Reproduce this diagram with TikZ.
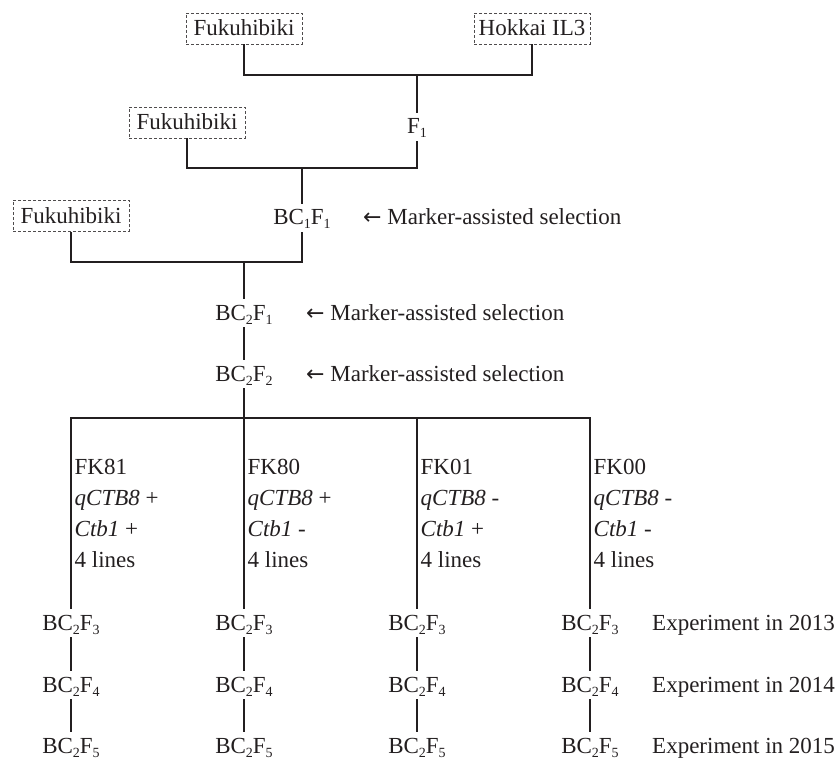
\documentclass[tikz,border=0pt]{standalone}
\usepackage{fontspec}
\setmainfont{Liberation Serif}
\newfontfamily\arrowfont{DejaVu Sans}
\newcommand\subx[1]{\raisebox{-4pt}{\fontsize{14}{14}\selectfont #1}}
\newcommand\larr{{\arrowfont\fontsize{22}{22}\selectfont ←}}
\definecolor{ink}{RGB}{35,31,32}
\begin{document}
\begin{tikzpicture}[x=1pt,y=-1pt,
  every node/.style={font=\fontsize{23}{27}\selectfont, text=ink},
  gen/.style={inner xsep=2pt, inner ysep=3pt, text height=18pt, text depth=4pt, anchor=base},
  parent/.style={draw=ink!80, dash pattern=on 3pt off 2pt, line width=0.9pt, minimum width=116pt, minimum height=31pt, inner sep=0pt, text height=15pt, text depth=0pt},
  lbl/.style={anchor=base west, inner sep=0pt},
  link/.style={draw=ink, line width=2.2pt}]
\useasboundingbox (0,0) rectangle (838,759);
\node[parent] (fa) at (244,28.5) {Fukuhibiki};
\node[parent] (hk) at (532,28.5) {Hokkai IL3};
\node[parent] (fb) at (187,122.5) {Fukuhibiki};
\node[parent] (fc) at (71,216) {Fukuhibiki};
\node[gen] (f1) at (417,134) {F\subx{1}};
\node[gen] (b11) at (302,225) {BC\subx{1}F\subx{1}};
\node[gen] (b21) at (244,320) {BC\subx{2}F\subx{1}};
\node[gen] (b22) at (244,381) {BC\subx{2}F\subx{2}};
\node[lbl] (m1) at (363,225) {\larr\ Marker-assisted selection};
\node[lbl] (m2) at (306,320) {\larr\ Marker-assisted selection};
\node[lbl] (m3) at (306,381) {\larr\ Marker-assisted selection};
\coordinate (j1) at (417,75);
\coordinate (j2) at (302,168);
\coordinate (j3) at (244,262);
\draw[link] (fa.south) |- (j1) -| (hk.south);
\draw[link] (j1) -- (f1.north);
\draw[link] (fb.south) |- (j2) -| (f1.south);
\draw[link] (j2) -- (b11.north);
\draw[link] (fc.south) |- (j3) -| (b11.south);
\draw[link] (j3) -- (b21.north);
\draw[link] (b21.south) -- (b22.north);
\foreach \i/\x/\n/\q/\c in {1/71/81/+/+, 2/244/80/+/-, 3/417/01/-/+, 4/590/00/-/-} {
  \coordinate (h\i) at (\x,418);
  \node[gen] (r3\i) at (\x,630) {BC\subx{2}F\subx{3}};
  \node[gen] (r4\i) at (\x,692) {BC\subx{2}F\subx{4}};
  \node[gen] (r5\i) at (\x,753) {BC\subx{2}F\subx{5}};
  \node[lbl] (fk\i) at (\x+3.5,474) {FK\n};
  \node[lbl] (qt\i) at (\x+3.5,505) {\textit{qCTB8} \q};
  \node[lbl] (ct\i) at (\x+3.5,536) {\textit{Ctb1} \c};
  \node[lbl] (ln\i) at (\x+3.5,567) {4 lines};
  \draw[link] (r3\i.south) -- (r4\i.north);
  \draw[link] (r4\i.south) -- (r5\i.north);
}
\draw[link] (r31.north) |- (h4) -- (r34.north);
\draw[link] (h2) -- (r32.north);
\draw[link] (h3) -- (r33.north);
\draw[link] (b22.south) -- (h2);
\node[lbl] (e3) at (652,630) {Experiment in 2013};
\node[lbl] (e4) at (652,692) {Experiment in 2014};
\node[lbl] (e5) at (652,753) {Experiment in 2015};
\end{tikzpicture}
\end{document}
